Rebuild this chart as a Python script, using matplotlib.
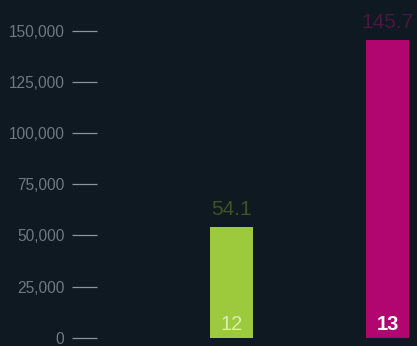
"""Two-bar count chart on a dark panel."""

import matplotlib
matplotlib.use("Agg")
import matplotlib.pyplot as plt
from matplotlib.ticker import FuncFormatter

# Chart data
categories = ["12", "13"]
values = [54100, 145700]
value_labels = ["54.1", "145.7"]
bar_colors = ["#9dc93c", "#b1056f"]
label_colors = ["#3c5421", "#4b1640"]
yticks = [0, 25000, 50000, 75000, 100000, 125000, 150000]

BG = "#0e1921"

plt.rcParams["font.family"] = ["Liberation Sans", "DejaVu Sans"]

fig = plt.figure(figsize=(4.17, 3.46), dpi=100, facecolor=BG)
ax = fig.add_axes([97 / 417, 0, 320 / 417, 1], facecolor=BG)

x = list(range(len(categories)))
ax.bar(x, values, width=0.276, color=bar_colors, zorder=2)

# value above each bar
for xi, v, lab, c in zip(x, values, value_labels, label_colors):
    ax.annotate(lab, (xi, v), xytext=(0, 6), textcoords="offset points",
                ha="center", va="bottom", fontsize=15, color=c)

# category name inside the foot of each bar
ax.annotate(categories[0], (x[0], 0), xytext=(0, 2.5), textcoords="offset points",
            ha="center", va="bottom", fontsize=14.5, color="#d9eeb5")
ax.annotate(categories[1], (x[1], 0), xytext=(0, 2.5), textcoords="offset points",
            ha="center", va="bottom", fontsize=14.5, color="white",
            fontweight="bold")

ax.set_xlim(-0.862, 1.189)
ax.set_ylim(-4060, 165200)
ax.set_xticks([])
ax.set_yticks(yticks)
ax.yaxis.set_major_formatter(FuncFormatter(lambda v, p: f"{int(v):,}"))
ax.tick_params(axis="y", length=18, width=0.9, pad=5.5, color="#8c959b",
               labelcolor="#6d7a82", labelsize=11.2)
for s in ax.spines.values():
    s.set_visible(False)

fig.savefig("out.png", dpi=100, facecolor=BG)
